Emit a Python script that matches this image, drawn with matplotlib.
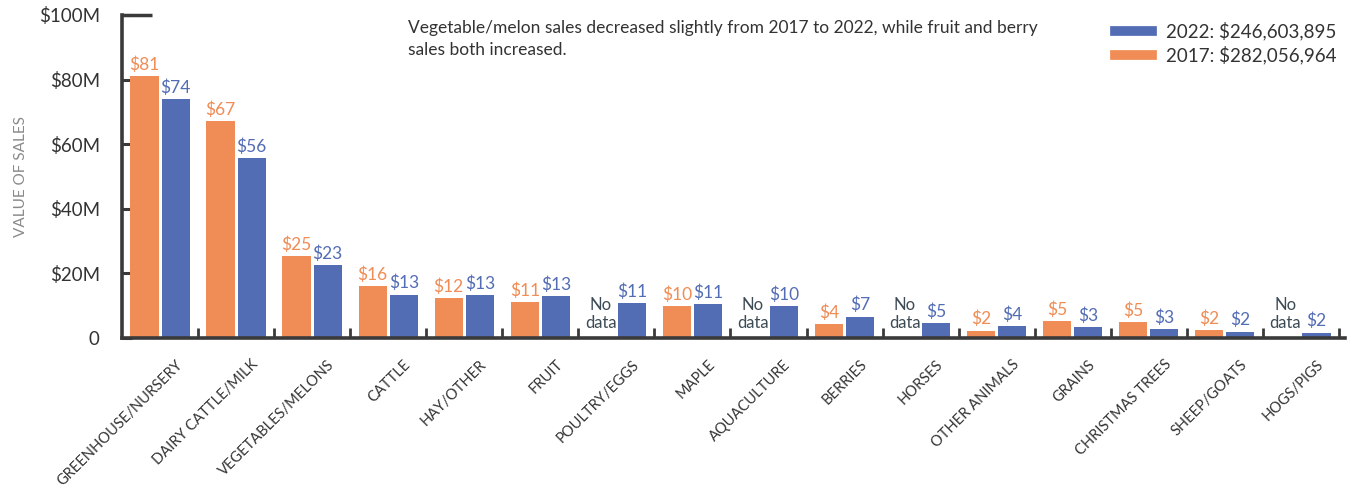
import matplotlib.pyplot as plt
from matplotlib.lines import Line2D
import numpy as np

categories = ["GREENHOUSE/NURSERY", "DAIRY CATTLE/MILK", "VEGETABLES/MELONS", "CATTLE",
              "HAY/OTHER", "FRUIT", "POULTRY/EGGS", "MAPLE", "AQUACULTURE", "BERRIES",
              "HORSES", "OTHER ANIMALS", "GRAINS", "CHRISTMAS TREES", "SHEEP/GOATS", "HOGS/PIGS"]
# values in $M, None = no data
sales_2017 = [81.1, 67.2, 25.4, 16.1, 12.4, 11.1, None, 9.9, None, 4.4, None, 2.3, 5.3, 4.8, 2.4, None]
sales_2022 = [74.0, 55.7, 22.6, 13.4, 13.2, 12.9, 10.8, 10.6, 9.8, 6.6, 4.7, 3.7, 3.3, 2.8, 2.0, 1.7]
yticks = [0, 20, 40, 60, 80, 100]
ytick_labels = ["0", "$20M", "$40M", "$60M", "$80M", "$100M"]
legend_2022 = "2022: $246,603,895"
legend_2017 = "2017: $282,056,964"
note = "Vegetable/melon sales decreased slightly from 2017 to 2022, while fruit and berry\nsales both increased."

orange = "#F08C55"
blue = "#536DB5"
dark = "#3a3a3a"

plt.rcParams['font.family'] = ['Lato', 'DejaVu Sans']

fig = plt.figure(figsize=(13.48, 4.94), dpi=100)
ax = fig.add_axes([122/1348, 156/494, (1345-122)/1348, (338-15)/494])

x = np.arange(len(categories))
w = 0.37
off = 0.205
v17 = [v if v is not None else 0 for v in sales_2017]
ax.bar(x - off, v17, w, color=orange, zorder=2)
ax.bar(x + off, sales_2022, w, color=blue, zorder=2)

for i in range(len(categories)):
    if sales_2017[i] is None:
        ax.text(x[i] - off, 2.2, "No\ndata", ha="center", va="bottom", fontsize=12,
                color="#3d4b55", linespacing=1.15)
    else:
        ax.text(x[i] - off, sales_2017[i] + 1, "$%d" % round(sales_2017[i]), ha="center",
                va="bottom", fontsize=12.5, color=orange)
    ax.text(x[i] + off, sales_2022[i] + 1, "$%d" % round(sales_2022[i]), ha="center",
            va="bottom", fontsize=12.5, color=blue)

ax.set_xlim(-0.5, 15.58)
ax.set_ylim(0, 100)
ax.set_yticks(yticks)
ax.set_yticklabels(ytick_labels, fontsize=13.5, color="#333333")
ax.tick_params(axis="y", direction="in", length=7, width=2.2, color=dark, pad=16)
ax.set_xticks(x + 0.2)
ax.set_xticklabels(categories, rotation=45, ha="right", rotation_mode="anchor",
                   fontsize=10.5, color="#333333")
ax.tick_params(axis="x", length=0, pad=14)
ax.set_xticks(np.arange(len(categories)) + 0.5, minor=True)
ax.tick_params(axis="x", which="minor", direction="in", length=7, width=2, color=dark)
ax.hlines(100, -0.5, -0.1, color=dark, lw=2.5, clip_on=False)

for s in ["top", "right"]:
    ax.spines[s].set_visible(False)
for s in ["left", "bottom"]:
    ax.spines[s].set_linewidth(2.6)
    ax.spines[s].set_color(dark)

ax.set_ylabel("VALUE OF SALES", fontsize=11, color="#8a8a8a")
ax.yaxis.set_label_coords(-0.077, 0.5)

fig.text(408/1348, 1 - 20/494, note, fontsize=12.5, color="#333333", va="top", linespacing=1.45)

handles = [Line2D([], [], color=blue, lw=7), Line2D([], [], color=orange, lw=7)]
leg = fig.legend(handles, [legend_2022, legend_2017], loc="upper left",
                 bbox_to_anchor=(1098/1348, 1 - 5/494), frameon=False, fontsize=13.5,
                 handlelength=2.0, handletextpad=0.7, labelspacing=0.3)
for t in leg.get_texts():
    t.set_color("#333333")

fig.savefig("out.png", dpi=100)
